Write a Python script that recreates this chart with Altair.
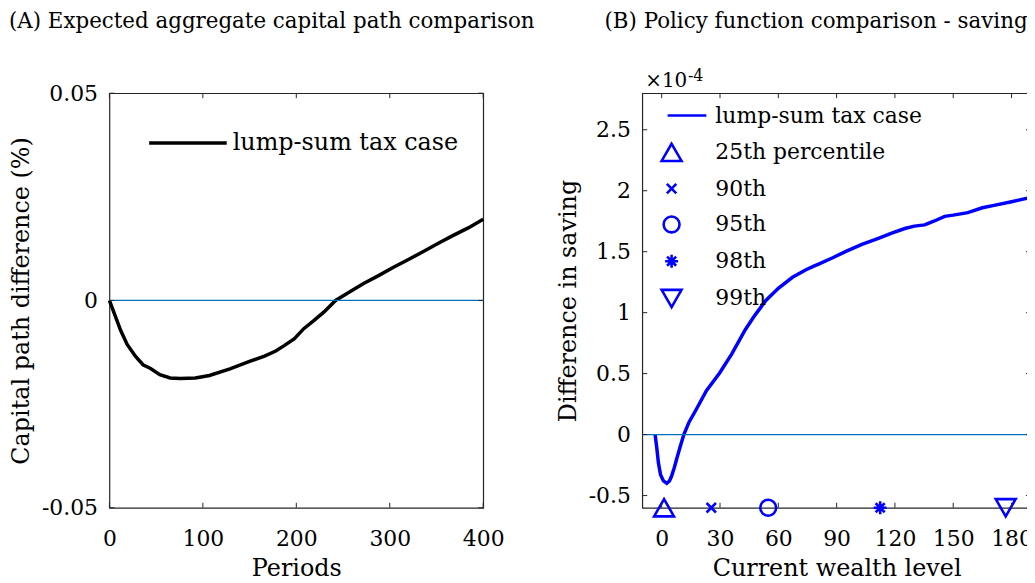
import altair as alt
import pandas as pd

# ---------------- Panel A data ----------------
periods = [0, 6, 12, 19, 28, 36, 44, 54, 65, 76, 92, 107, 129, 150, 166, 178,
           187, 198, 208, 219, 230, 242, 256, 272, 288, 304, 320, 336, 352, 368, 384, 400]
cap_diff = [0.0, -0.0036, -0.0072, -0.0106, -0.0135, -0.0155, -0.0164, -0.0179,
            -0.0187, -0.0188, -0.0187, -0.0181, -0.0165, -0.0147, -0.0134, -0.0122,
            -0.0109, -0.0092, -0.0068, -0.0048, -0.0027, 0.0, 0.0019, 0.0041,
            0.0060, 0.0080, 0.0099, 0.0118, 0.0138, 0.0157, 0.0175, 0.0196]
a_series = ["lump-sum tax case"]
a_xticks = [0, 100, 200, 300, 400]
a_yticks = [-0.05, 0, 0.05]
zero_line = [0]

# ---------------- Panel B data ----------------
wealth = [-3.4, -2.6, -1.7, -0.6, 0.9, 2.6, 4.0, 5.1, 6.5, 7.7, 9.5, 11.4, 14.0,
          17.9, 23.0, 29.8, 36.0, 43.0, 48.0, 53.6, 60.0, 67.3, 74.0, 78.0, 81.0,
          88.0, 94.5, 103.0, 111.5, 118.0, 125.1, 130.0, 135.3, 140.0, 145.6,
          150.0, 157.5, 165.0, 171.0, 180.0, 190.0]
saving = [0.00, -0.10, -0.23, -0.33, -0.38, -0.40, -0.38, -0.34, -0.27, -0.20,
          -0.10, 0.00, 0.10, 0.21, 0.36, 0.505, 0.66, 0.86, 0.98, 1.10, 1.20,
          1.29, 1.35, 1.38, 1.40, 1.45, 1.50, 1.56, 1.61, 1.65, 1.69, 1.71, 1.72,
          1.75, 1.79, 1.80, 1.82, 1.86, 1.88, 1.91, 1.945]
pct_labels = ["25th percentile", "90th", "95th", "98th", "99th"]
pct_wealth = [1.2, 25.5, 54.8, 112.4, 177.0]
pct_saving = [-0.6, -0.6, -0.6, -0.6, -0.6]
b_series = ["lump-sum tax case"]
b_xticks = [0, 30, 60, 90, 120, 150, 180]
b_yticks = [-0.5, 0, 0.5, 1, 1.5, 2, 2.5]
b_exponent = ["×10"]
b_exponent_power = ["-4"]

# ---------------- styling ----------------
FONT = "DejaVu Serif"
FRAME = "#262626"
BLUE = "#0000FF"
ZERO = "#0072BD"
AW, AH = 376, 417
BW, BH = 391, 417
TICK = 5
LAB = 22
TIT = 24
FIX_MINUS = "replace(format(datum.value, '~g'), '\u2212', '-')"


def frame_ticks(xvals, yvals, xs, ys, w, h):
    dx = pd.DataFrame({"x": xvals})
    dy = pd.DataFrame({"y": yvals})
    rule = dict(color=FRAME, strokeWidth=1)
    bottom = alt.Chart(dx).mark_rule(**rule).encode(
        x=alt.X("x:Q", scale=xs), y=alt.value(h), y2=alt.value(h - TICK))
    top = alt.Chart(dx).mark_rule(**rule).encode(
        x=alt.X("x:Q", scale=xs), y=alt.value(0), y2=alt.value(TICK))
    left = alt.Chart(dy).mark_rule(**rule).encode(
        y=alt.Y("y:Q", scale=ys), x=alt.value(0), x2=alt.value(TICK))
    right = alt.Chart(dy).mark_rule(**rule).encode(
        y=alt.Y("y:Q", scale=ys), x=alt.value(w), x2=alt.value(w - TICK))
    return [bottom, top, left, right]


def xaxis(vals, title):
    return alt.Axis(values=vals, title=title, labelPadding=21, titlePadding=7,
                    labelFlush=False, labelOverlap=False, labelExpr=FIX_MINUS)


def yaxis(vals, title, tp):
    return alt.Axis(values=vals, title=title, labelPadding=12, titlePadding=tp,
                    labelFlush=False, labelOverlap=False, labelExpr=FIX_MINUS)


# ---------------- Panel A ----------------
xA = alt.Scale(domain=[0, 400], nice=False, zero=False)
yA = alt.Scale(domain=[-0.05, 0.05], nice=False, zero=False)

dfA = pd.DataFrame({"x": periods, "y": cap_diff,
                    "series": [a_series[0]] * len(periods)})
lineA = alt.Chart(dfA).mark_line(strokeWidth=3.5).encode(
    x=alt.X("x:Q", scale=xA, axis=xaxis(a_xticks, "Periods")),
    y=alt.Y("y:Q", scale=yA, axis=yaxis(a_yticks, "Capital path difference (%)", 7.5)),
    color=alt.Color("series:N",
                    scale=alt.Scale(domain=a_series, range=["black"]),
                    legend=alt.Legend(orient="none", legendX=38, legendY=9,
                                      title=None, symbolType="stroke",
                                      symbolSize=6084, symbolStrokeWidth=3.5,
                                      labelFont=FONT, labelFontSize=24,
                                      labelOffset=4, padding=0, labelLimit=500,
                                      labelColor="black")),
)
zeroA = alt.Chart(pd.DataFrame({"y": zero_line})).mark_rule(
    color=ZERO, strokeWidth=1.2).encode(y=alt.Y("y:Q", scale=yA))
panelA = alt.layer(lineA, zeroA, *frame_ticks(a_xticks, a_yticks, xA, yA, AW, AH)).properties(
    width=AW, height=AH,
    title=alt.TitleParams("(A) Expected aggregate capital path comparison",
                          anchor="start", frame="group", dx=-101, offset=33,
                          baseline="alphabetic", font=FONT, fontSize=21.5,
                          fontWeight="normal", color="black"),
)

# ---------------- Panel B ----------------
xB = alt.Scale(domain=[-10, 190], nice=False, zero=False)
yB = alt.Scale(domain=[-0.6, 2.8], nice=False, zero=False)

dfB = pd.DataFrame({"x": wealth, "y": saving})
dfP = pd.DataFrame({"x": pct_wealth, "y": pct_saving, "label": pct_labels})

legend_domain = b_series + pct_labels
shape_range = [
    "M-0.4,0L3.5,0",
    "triangle-up",
    "M-1,-1L1,1M-1,1L1,-1",
    "circle",
    "M-1,0L1,0M0,-1L0,1M-0.7,-0.7L0.7,0.7M-0.7,0.7L0.7,-0.7",
    "triangle-down",
]
size_range = [400, 400, 90, 256, 169, 400]
legB = alt.Legend(orient="none", legendX=18, legendY=11, title=None,
                  labelFont=FONT, labelFontSize=22, labelOffset=32.5,
                  padding=0, rowPadding=11, labelColor="black", labelLimit=500,
                  symbolStrokeColor=BLUE, symbolFillColor="transparent",
                  symbolStrokeWidth=2.6)

lineB = alt.Chart(dfB).mark_line(strokeWidth=3.5, color=BLUE).encode(
    x=alt.X("x:Q", scale=xB, axis=xaxis(b_xticks, "Current wealth level")),
    y=alt.Y("y:Q", scale=yB, axis=yaxis(b_yticks, "Difference in saving", 8)),
)
zeroB = alt.Chart(pd.DataFrame({"y": zero_line})).mark_rule(
    color=ZERO, strokeWidth=1.2).encode(y=alt.Y("y:Q", scale=yB))
pointsB = alt.Chart(dfP).mark_point(filled=False, color=BLUE, strokeWidth=2.6,
                                    opacity=1).encode(
    x=alt.X("x:Q", scale=xB),
    y=alt.Y("y:Q", scale=yB),
    shape=alt.Shape("label:N", scale=alt.Scale(type="ordinal", domain=legend_domain,
                                               range=shape_range), legend=legB),
    size=alt.Size("label:N", scale=alt.Scale(type="ordinal", domain=legend_domain,
                                             range=size_range), legend=legB),
)
expB = alt.Chart(pd.DataFrame({"t": b_exponent})).mark_text(
    align="left", baseline="alphabetic", font=FONT, fontSize=20, color="black"
).encode(text="t:N", x=alt.value(3), y=alt.value(-6))
powB = alt.Chart(pd.DataFrame({"t": b_exponent_power})).mark_text(
    align="left", baseline="alphabetic", font=FONT, fontSize=16, color="black"
).encode(text="t:N", x=alt.value(46), y=alt.value(-12))

panelB = alt.layer(lineB, zeroB, pointsB, expB, powB,
                   *frame_ticks(b_xticks, b_yticks, xB, yB, BW, BH)).properties(
    width=BW, height=BH,
    title=alt.TitleParams("(B) Policy function comparison - saving",
                          anchor="start", frame="group", dx=-38, offset=19,
                          baseline="alphabetic", font=FONT, fontSize=21.5,
                          fontWeight="normal", color="black"),
)

chart = alt.hconcat(panelA, panelB, spacing=160, bounds="flush").resolve_scale(
    color="independent", shape="independent", size="independent"
).properties(
    padding={"left": 0, "top": 0, "right": -12, "bottom": 0}
).configure_view(
    stroke=FRAME, strokeWidth=1.2
).configure_axis(
    labelFont=FONT, labelFontSize=LAB, labelColor="black",
    titleFont=FONT, titleFontSize=TIT, titleFontWeight="normal", titleColor="black",
    ticks=False, domain=False, grid=False,
)

chart.save("out.html", embed_options={"renderer": "svg", "actions": False})
